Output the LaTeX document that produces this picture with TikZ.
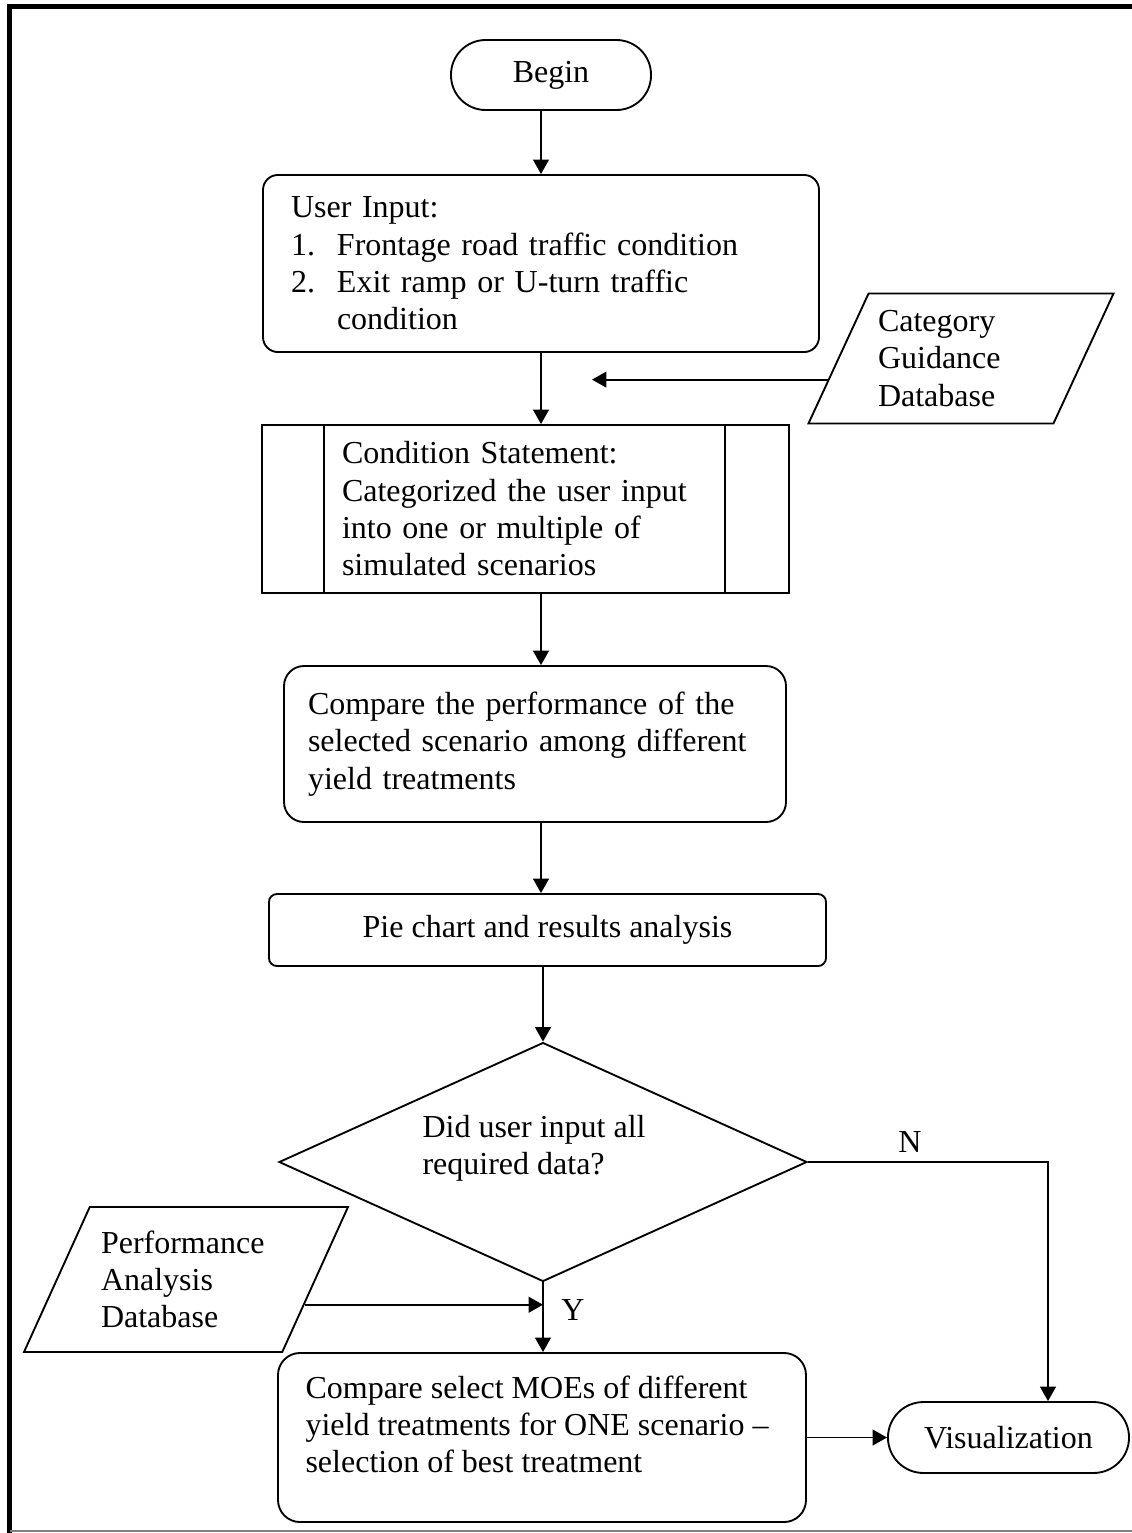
\documentclass[tikz,border=0pt]{standalone}
\usepackage{fontspec}
\setmainfont{Liberation Serif}
\usetikzlibrary{positioning}
\usetikzlibrary{shapes.geometric}
\usetikzlibrary{arrows.meta}

\begin{document}
\begin{tikzpicture}[x=0.375pt, y=-0.375pt,
  font=\fontsize{12pt}{14pt}\selectfont,
  termbox/.style={draw, line width=0.7pt, inner sep=0pt},
  procbox/.style={draw, line width=0.7pt, align=left, inner ysep=0pt},
  databox/.style={draw, line width=0.7pt, trapezium, trapezium stretches body=true, align=left, inner sep=0pt},
  flow/.style={line width=0.7pt, -{Triangle[length=5.4pt, width=5.9pt]}}]
\useasboundingbox (0,0) rectangle (1132,1533);
%frame
\draw[line width=1.9pt] (9.7,1533) -- (9.7,6.6) -- (1132,6.6);
\draw[gray, line width=0.6pt] (9.7,1531) -- (1132,1531);
%nodes
\node[termbox, minimum width=75pt, minimum height=26.25pt, rounded corners=13pt] (begin) at (551,75) {Begin};
\node[procbox, rounded corners=5.6pt, minimum height=66.4pt, text width=187.5pt, inner xsep=10.5pt] (input) at (541,263.5) {User Input:\\
  \makebox[17.25pt][l]{1.}Frontage road traffic condition\\
  \makebox[17.25pt][l]{2.}Exit ramp or U-turn traffic\\
  \hspace*{17.25pt}condition};
\node[databox, trapezium left angle=58, trapezium right angle=122, minimum width=114.4pt, minimum height=48.75pt, text width=62.25pt] (catdb) at (961,358.5) {Category\\ Guidance\\ Database};
\node[procbox, minimum height=63pt, text width=137.6pt, inner xsep=30pt] (cond) at (525.5,509) {Condition Statement:\\ Categorized the user input\\ into one or multiple of\\ simulated scenarios};
\draw[line width=0.7pt] ([xshift=23.6pt]cond.north west) -- ([xshift=23.6pt]cond.south west);
\draw[line width=0.7pt] ([xshift=-24.4pt]cond.north east) -- ([xshift=-24.4pt]cond.south east);
\node[procbox, rounded corners=7.5pt, minimum height=58.5pt, text width=170.25pt, inner xsep=9pt] (compare) at (535,744) {Compare the performance of the\\ selected scenario among different\\ yield treatments};
\node[procbox, rounded corners=3pt, minimum width=208.9pt, minimum height=27pt] (pie) at (547.5,930) {Pie chart and results analysis};
\node[draw, line width=0.7pt, diamond, minimum width=198pt, minimum height=89.6pt, inner sep=0pt] (check) at (543,1162) {};
\node[anchor=west, align=left, inner sep=0pt] (checktext) at (422,1148) {Did user input all\\ required data?};
\node[databox, trapezium left angle=56, trapezium right angle=124, minimum width=121.5pt, minimum height=54.4pt, text width=63.75pt] (perfdb) at (186,1279.5) {Performance\\ Analysis\\ Database};
\node[procbox, rounded corners=8.25pt, minimum width=198pt, minimum height=63.4pt] (select) at (542,1437.5) {};
\node[anchor=west, align=left, inner sep=0pt] (selecttext) at (305,1424.5) {Compare select MOEs of different\\ yield treatments for ONE scenario –\\ selection of best treatment};
\node[termbox, minimum width=90.4pt, minimum height=26.6pt, rounded corners=13.3pt] (vis) at (1008.5,1437.5) {Visualization};
%connectors
\draw[flow] (input.north |- begin.south) -- (input.north);
\draw[flow] (input.south) -- (input.south |- cond.north);
\coordinate (catin) at (592,379);
\draw[flow] (catdb.189) -- (catdb.189 -| catin);
\draw[flow] (cond.south -| input) -- (compare.north -| input);
\draw[flow] (compare.south -| input) -- (pie.north -| input);
\draw[flow] (pie.south -| check) -- (check.north);
\coordinate (ncorner) at (1048,1162);
\draw[flow] (check.east) -- (ncorner) -- (ncorner |- vis.north);
\draw[flow] (check.south) -- (check.south |- select.north);
\draw[flow] (perfdb.-12) -- (perfdb.-12 -| check.south);
\draw[flow] (select.east) -- (vis.west);
%labels
\node (nlabel) at (910,1142) {N};
\node (ylabel) at (573,1310) {Y};
\end{tikzpicture}
\end{document}
